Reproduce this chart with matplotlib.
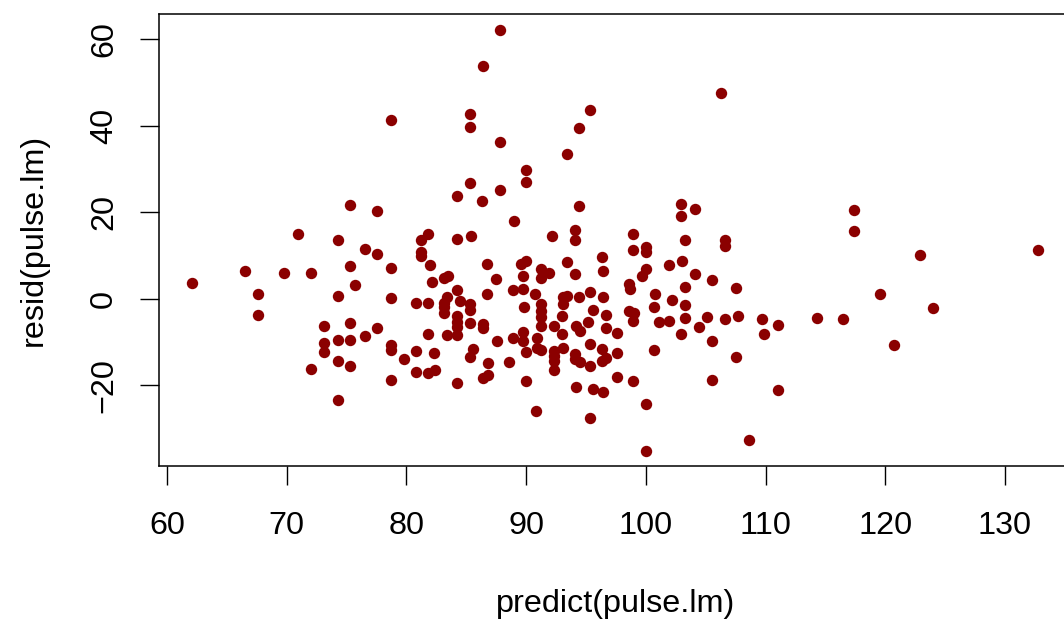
import matplotlib
matplotlib.use("Agg")
import matplotlib.pyplot as plt
import numpy as np

plt.rcParams['font.family'] = ['Liberation Sans', 'DejaVu Sans']

predicted = [
    62.1, 66.5, 67.6, 67.6, 69.8, 70.9, 72.0, 72.0,
    75.3, 77.5, 74.3, 76.5, 77.5, 75.3, 78.7, 75.7, 74.3, 78.7, 80.8, 81.2,
    81.8, 81.2, 81.2, 73.1, 75.3, 77.5, 73.1, 73.1, 74.3, 75.3, 76.5, 78.7,
    78.7, 79.8, 80.8, 80.8, 74.3, 75.3, 78.7, 74.3,
    90.0, 90.0, 85.3, 84.2, 86.3, 87.8, 89.0, 84.2, 85.4, 82.0, 86.7, 89.6,
    90.0, 89.7, 87.5, 83.1, 83.5, 82.1, 84.2, 83.4, 88.9, 89.7, 86.7, 81.8,
    83.1, 83.1, 83.1, 84.5, 85.3, 85.3, 84.2, 84.2, 84.2, 85.3, 86.4, 86.4,
    89.8, 81.8, 83.4, 84.2, 87.6, 88.9, 89.7, 89.7, 90.0, 82.3, 85.6, 85.3,
    86.8, 88.6, 81.8, 82.4, 86.4, 86.8, 84.2, 90.0,
    93.4, 94.4, 92.2, 94.1, 94.1, 96.3, 96.4, 93.4, 91.2, 91.2, 91.9, 94.1,
    90.7, 91.2, 91.2, 91.2, 91.2, 93.1, 93.4, 93.1, 94.4, 95.3, 96.4, 95.6,
    96.7, 93.0, 95.2, 96.7, 97.6, 92.3, 94.2, 94.5, 93.0, 90.9, 90.9, 91.2,
    93.1, 92.3, 92.3, 92.3, 92.3, 94.1, 94.1, 94.5, 95.3, 95.3, 96.3, 96.3,
    96.7, 97.6, 97.6, 94.2, 95.6, 96.4, 90.8, 95.3,
    102.9, 102.9, 104.1, 98.9, 103.3, 98.9, 100.0, 100.0, 101.9, 103.0, 100.0,
    99.7, 104.1, 105.5, 98.6, 98.7, 100.8, 103.3, 100.7, 102.2, 103.3, 98.6,
    99.0, 98.9, 101.1, 101.9, 103.3, 105.1, 104.4, 102.9, 105.5, 100.7, 98.9,
    105.5, 100.0, 100.0,
    117.4, 117.4, 106.6, 106.6, 122.9, 132.8, 107.5, 119.6, 124.0, 106.6,
    107.7, 109.7, 109.9, 111.0, 114.3, 116.5, 120.7, 107.5, 111.0, 108.6,
    87.8, 86.4, 78.7, 85.3, 85.3, 87.8, 95.3, 94.4, 106.3,
]

residuals = [
    3.7, 6.4, 1.2, -3.8, 6.0, 15.0, 5.9, -16.2,
    21.6, 20.4, 13.6, 11.4, 10.3, 7.5, 7.2, 3.1, 0.6, 0.2, -1.1, 13.6,
    15.0, 10.8, 9.8, -6.4, -5.6, -6.7, -10.2, -12.4, -9.5, -9.6, -8.7, -10.8,
    -11.9, -14.0, -12.1, -17.0, -14.5, -15.6, -18.9, -23.5,
    29.9, 26.9, 26.7, 23.8, 22.5, 25.1, 18.0, 13.8, 14.6, 7.9, 8.1, 8.1,
    8.8, 5.2, 4.5, 4.9, 5.3, 3.8, 1.9, 0.5, 2.0, 2.2, 1.1, -1.1,
    -0.9, -2.0, -3.4, -0.6, -1.2, -2.6, -4.0, -5.3, -6.5, -5.6, -5.9, -6.7,
    -1.9, -8.1, -8.5, -8.4, -9.8, -9.1, -7.8, -9.9, -12.3, -12.5, -11.7, -13.5,
    -14.9, -14.7, -17.1, -16.6, -18.3, -17.7, -19.5, -19.1,
    33.6, 21.5, 14.6, 16.0, 13.7, 9.6, 6.5, 8.4, 6.9, 4.7, 6.0, 5.7,
    1.1, -1.2, -2.8, -4.3, -6.3, 0.3, 0.7, -1.2, 0.5, 1.6, 0.5, -2.6,
    -3.7, -4.1, -5.3, -6.8, -7.9, -6.3, -6.3, -7.4, -8.1, -9.0, -11.3, -11.9,
    -11.3, -12.1, -13.3, -14.4, -16.5, -12.9, -14.0, -14.6, -10.5, -15.6, -11.7, -14.4,
    -13.8, -12.5, -18.1, -20.5, -20.9, -21.6, -26.0, -27.6,
    22.0, 19.1, 20.8, 15.0, 13.6, 11.2, 11.9, 10.8, 7.9, 8.8, 6.9,
    5.3, 5.7, 4.3, 3.4, 2.3, 1.0, 2.6, -1.9, -0.3, -1.4, -2.8,
    -3.2, -5.1, -5.3, -5.2, -4.4, -4.3, -6.5, -8.1, -9.7, -11.9, -19.1,
    -18.8, -24.3, -35.3,
    20.5, 15.6, 13.5, 12.3, 10.0, 11.2, 2.5, 1.2, -2.1, -4.8,
    -3.9, -4.8, -8.1, -6.1, -4.5, -4.7, -10.8, -13.6, -21.2, -32.8,
    62.3, 53.8, 41.4, 42.8, 39.7, 36.2, 43.7, 39.5, 47.7,
]

x_ticks = [60, 70, 80, 90, 100, 110, 120, 130]
y_ticks = [-20, 0, 20, 40, 60]
x_label = "predict(pulse.lm)"
y_label = "resid(pulse.lm)"

W, H = 1064, 622
fig = plt.figure(figsize=(W / 100, H / 100), dpi=100)

left_px, right_px, top_px, bottom_px = 159, 1072, 14, 466
ax = fig.add_axes([left_px / W, 1 - bottom_px / H,
                   (right_px - left_px) / W, (bottom_px - top_px) / H])

ax.plot(predicted, residuals, 'o', color='#8B0000', markersize=8.2,
        markeredgewidth=0, clip_on=False)

ax.set_xlim(59.33, 135.6)
ax.set_ylim(-38.73, 65.9)

def fmt(v):
    return str(v).replace('-', '\u2212')

ax.set_xticks(x_ticks)
ax.set_yticks(y_ticks)
ax.set_xticklabels([fmt(v) for v in x_ticks])
ax.set_yticklabels([fmt(v) for v in y_ticks], rotation=90, va='center')

fs = 23.3
ax.tick_params(axis='both', direction='out', length=13.7, width=1.0,
               labelsize=fs, color='black')
ax.tick_params(axis='x', pad=18.5)
ax.tick_params(axis='y', pad=15)
for sp in ax.spines.values():
    sp.set_linewidth(1.1)
    sp.set_color('black')

fig.text(615.5 / W, 1 - 611.7 / H, x_label, ha='center', va='baseline',
         fontsize=fs)
fig.text(41.7 / W, 1 - 240 / H, y_label, ha='center', va='baseline',
         rotation=90, rotation_mode='anchor', fontsize=fs)

fig.savefig("out.png", dpi=100)
